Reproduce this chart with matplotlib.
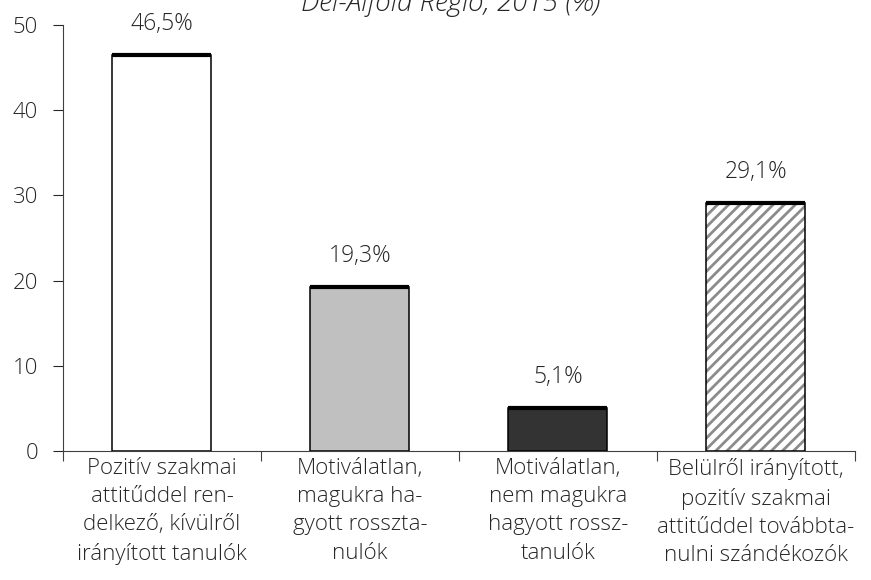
import numpy as np
import matplotlib.pyplot as plt

categories = [
    'Pozitív szakmai\nattitűddel ren-\ndelkező, kívülről\nirányított tanulók',
    'Motiválatlan,\nmagukra ha-\ngyott rossztа-\nnulók'.replace('а', 'a'),
    'Motiválatlan,\nnem magukra\nhagyott rossz-\ntanulók',
    'Belülről irányított,\npozitív szakmai\nattitűddel továbbta-\nnulni szándékozók',
]
values = [46.5, 19.3, 5.1, 29.1]
value_labels = ['46,5%', '19,3%', '5,1%', '29,1%']
fills = ['white', '#c0c0c0', '#333333', 'white']
hatches = ['', '', '', '///']

plt.rcParams['font.family'] = ['Open Sans', 'DejaVu Sans']
plt.rcParams['hatch.linewidth'] = 2.0
text_color = '#262626'
light = 300

fig = plt.figure(figsize=(8.71, 5.8), dpi=100)
ax = fig.add_axes([0.0723, 0.2224, 0.9093, 0.7345])

x = np.arange(len(values))
width = 0.5
# hatch layer (grey stripes), then black outline on top
for xi, v, f, h in zip(x, values, fills, hatches):
    ax.bar(xi, v, width=width, color=f, edgecolor='#8c8c8c' if h else 'none',
           hatch=h or None, linewidth=0)
ax.bar(x, values, width=width, color='none', edgecolor='black', linewidth=1.1)
# thick top edge of each bar
ax.hlines(values, x - width / 2, x + width / 2, colors='black', linewidth=3)

for xi, v, lab in zip(x, values, value_labels):
    ax.text(xi, v + 3.6, lab, ha='center', va='center', fontsize=16.5,
            color=text_color, fontweight=light)

ax.set_xlim(-0.5, len(values) - 0.5)
ax.set_ylim(0, 50)
ax.set_yticks([0, 10, 20, 30, 40, 50])
ax.tick_params(axis='y', labelsize=16, colors=text_color, length=7, width=0.8, pad=11)
for t in ax.get_yticklabels():
    t.set_fontweight(light)
ax.set_xticks(np.arange(len(values) + 1) - 0.5)
ax.set_xticklabels([])
ax.tick_params(axis='x', length=7, width=0.8, color='#404040', direction='out')
ax.set_xticks(x, minor=True)
ax.set_xticklabels(categories, minor=True, fontsize=16, color=text_color,
                   linespacing=1.45, fontweight=light)
ax.tick_params(axis='x', which='minor', length=0, pad=5)

for side in ['top', 'right']:
    ax.spines[side].set_visible(False)
for side in ['left', 'bottom']:
    ax.spines[side].set_color('#404040')
    ax.spines[side].set_linewidth(0.8)

fig.text(0.517, 1 - 11 / 580, 'Dél-Alföld Régió, 2015 (%)', ha='center', va='baseline',
         fontsize=20, style='italic', color=text_color, fontweight=light)

fig.savefig('out.png', dpi=100)
